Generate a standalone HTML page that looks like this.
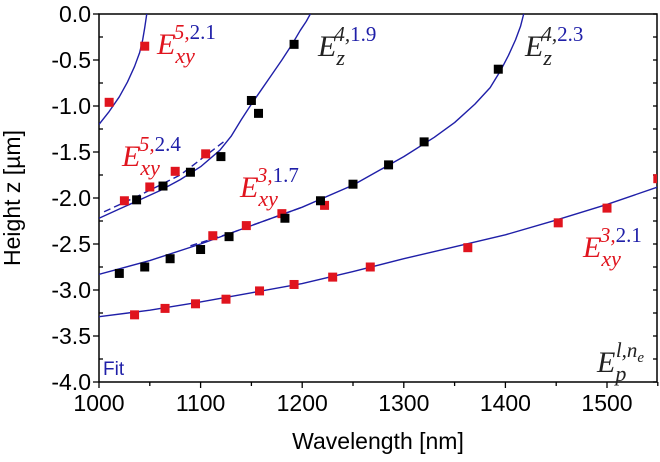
<!DOCTYPE html>
<html><head><meta charset="utf-8"><style>
body{margin:0;background:#fff}
svg text{font-family:"Liberation Sans",sans-serif}
.lab{font-family:"Liberation Serif",serif;font-style:italic}
</style></head><body>
<svg id="c" width="660" height="457" xmlns="http://www.w3.org/2000/svg"></svg>
<script>
const xTicks=[1000,1100,1200,1300,1400,1500];
const yTicks=[0,-0.5,-1,-1.5,-2,-2.5,-3,-3.5,-4];
const fit1=[[1000,-1.2],[1010,-1.06],[1020,-0.9],[1028,-0.74],[1035,-0.57],[1040,-0.42],[1043,-0.28],[1045,-0.15],[1047,0]];
const fit2=[[1000,-2.22],[1020,-2.12],[1040,-2.02],[1060,-1.92],[1080,-1.8],[1100,-1.66],[1119,-1.48],[1130,-1.33],[1140,-1.15],[1150,-0.98],[1160,-0.82],[1170,-0.66],[1180,-0.5],[1190,-0.33],[1198,-0.18],[1204,-0.08],[1208,0]];
const fit2d=[[1005,-2.15],[1040,-1.97],[1080,-1.75],[1125,-1.37]];
const fit3=[[1000,-2.83],[1050,-2.68],[1100,-2.5],[1150,-2.3],[1200,-2.1],[1250,-1.86],[1300,-1.55],[1330,-1.34],[1350,-1.18],[1370,-0.98],[1385,-0.8],[1395,-0.62],[1403,-0.45],[1410,-0.28],[1415,-0.13],[1418,0]];
const fit3d=[[1090,-2.52],[1130,-2.38],[1170,-2.22],[1200,-2.1]];
const fit4=[[1000,-3.29],[1050,-3.22],[1100,-3.13],[1150,-3.03],[1200,-2.93],[1250,-2.8],[1300,-2.66],[1350,-2.53],[1400,-2.4],[1450,-2.24],[1500,-2.07],[1550,-1.88]];
const redX=[1010,1045,1025,1050,1075,1105,1112,1145,1180,1222,1035,1065,1095,1125,1158,1192,1230,1267,1363,1452,1500,1550];
const redY=[-0.96,-0.35,-2.03,-1.88,-1.71,-1.52,-2.41,-2.3,-2.17,-2.08,-3.27,-3.2,-3.15,-3.1,-3.01,-2.94,-2.86,-2.75,-2.54,-2.27,-2.11,-1.79];
const blkX=[1037,1063,1090,1120,1150,1157,1192,1020,1045,1070,1100,1128,1183,1218,1250,1285,1320,1393];
const blkY=[-2.02,-1.87,-1.72,-1.55,-0.94,-1.08,-0.33,-2.82,-2.75,-2.66,-2.56,-2.42,-2.22,-2.03,-1.85,-1.64,-1.39,-0.6];
const L=99,R=657,T=14,B=382;
const X=v=>L+(v-1000)*(607-99)/500;
const Y=v=>T+(0-v)*(B-T)/4;
const svg=document.getElementById('c');const NS='http://www.w3.org/2000/svg';
function mk(t,a,txt){const e=document.createElementNS(NS,t);for(const k in a)e.setAttribute(k,a[k]);if(txt!=null)e.textContent=txt;svg.appendChild(e);return e;}
let e;
e=mk('defs',{});e.innerHTML='<clipPath id="cp"><rect x="99" y="14" width="558" height="368"/></clipPath>';
e=mk('rect',{x:L,y:T,width:R-L,height:B-T,fill:'none',stroke:'#000','stroke-width':1.5});

for(let v=1000;v<=1550;v+=50){const maj=v%100==0;
e=mk('line',{x1:X(v),x2:X(v),y1:B,y2:B+(maj?6:4),stroke:'#000','stroke-width':1.3});
}
xTicks.forEach(v=>{e=mk('text',{x:X(v),y:B+29,'font-size':23,'text-anchor':'middle'},String(v));
});
for(let v=0;v>=-4;v-=0.25){const maj=Math.abs(v*2-Math.round(v*2))<1e-6;
e=mk('line',{x1:maj?L-6:L,x2:maj?L:L+4,y1:Y(v),y2:Y(v),stroke:'#000','stroke-width':1.3});

e=mk('line',{x1:R-4,x2:R,y1:Y(v),y2:Y(v),stroke:'#000','stroke-width':1.3});
}
yTicks.forEach(v=>{e=mk('text',{x:L-8,y:Y(v)+8,'font-size':23,'text-anchor':'end'},v.toFixed(1));
});
e=mk('text',{x:378,y:449,'font-size':23,'text-anchor':'middle'},'Wavelength [nm]');

e=mk('text',{x:0,y:0,'font-size':23,'text-anchor':'middle',transform:'translate(20,198) rotate(-90)'},'Height z [µm]');

function line(pts,dash,name){e=mk('polyline',{points:pts.map(p=>X(p[0])+','+Y(p[1])).join(' '),fill:'none',stroke:'#1f1fa8','stroke-width':1.4,'stroke-linejoin':'round','clip-path':'url(#cp)','stroke-dasharray':dash?'7,4':'none'});
}
line(fit1,false,'fit-line-1');line(fit2,false,'fit-line-2');line(fit2d,true,'fit-line-2-dashed');
line(fit3,false,'fit-line-3');line(fit3d,true,'fit-line-3-dashed');line(fit4,false,'fit-line-4');
function pts(xs,ys,col,name){xs.forEach((x,i)=>{e=mk('rect',{x:X(x)-4.5,y:Y(ys[i])-4.5,width:9,height:9,fill:col,'clip-path':'url(#cp)'});
});}
pts(redX,redY,'#e0141e','red-point');pts(blkX,blkY,'#000','black-point');
function lab(x,y,sub,sup,col,name){e=mk('text',{x:x,y:y,'font-size':30,class:'lab',fill:col});
e.innerHTML='E<tspan font-size="22" dy="9">'+sub+'</tspan><tspan font-size="21" dy="-24" dx="-'+(sub.length*10.5)+'">'+sup+'</tspan>';
}
lab(157,54,'xy','<tspan fill="#e0141e">5,</tspan><tspan fill="#1f1fa8" font-style="normal">2.1</tspan>','#e0141e','label-e5-21');
lab(122,166,'xy','<tspan fill="#e0141e">5,</tspan><tspan fill="#1f1fa8" font-style="normal">2.4</tspan>','#e0141e','label-e5-24');
lab(318,56,'z','<tspan fill="#222">4,</tspan><tspan fill="#1f1fa8" font-style="normal">1.9</tspan>','#222','label-ez4-19');
lab(525,56,'z','<tspan fill="#222">4,</tspan><tspan fill="#1f1fa8" font-style="normal">2.3</tspan>','#222','label-ez4-23');
lab(240,197,'xy','<tspan fill="#e0141e">3,</tspan><tspan fill="#1f1fa8" font-style="normal">1.7</tspan>','#e0141e','label-e3-17');
lab(583,257,'xy','<tspan fill="#e0141e">3,</tspan><tspan fill="#1f1fa8" font-style="normal">2.1</tspan>','#e0141e','label-e3-21');
lab(597,372,'p','l,n<tspan font-size="15" dy="5">e</tspan>','#222','label-ep-lne');
e=mk('text',{x:103,y:375,'font-size':19,fill:'#1f1fa8'},'Fit');

</script>
</body></html>
